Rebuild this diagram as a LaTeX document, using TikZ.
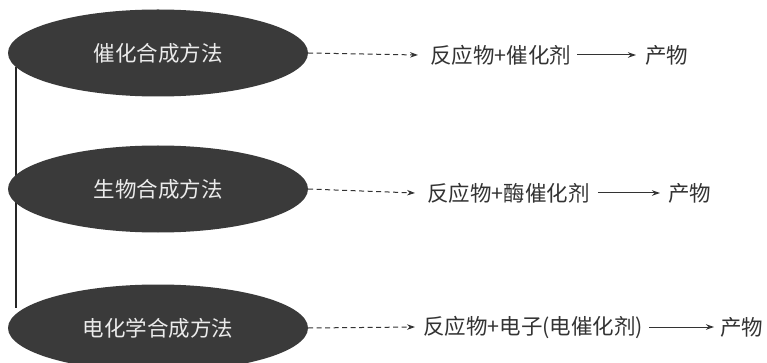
\documentclass[tikz,border=0pt]{standalone}
\usepackage{fontspec}
\newfontfamily\cjk{Noto Sans CJK SC}
\usetikzlibrary{shapes.geometric,arrows.meta,backgrounds}
\definecolor{ellfill}{HTML}{3A3A3A}
\definecolor{txt}{HTML}{333333}
\tikzset{
  ellnode/.style={ellipse, fill=ellfill, draw=none, minimum width=300pt, minimum height=87pt, inner sep=0pt, text=white!92!black, font=\cjk\fontsize{21.5}{23}\selectfont},
  lbl/.style={anchor=west, inner sep=0pt, text=txt, font=\cjk\fontsize{21.5}{23}\selectfont},
  dasharrow/.style={draw=txt, line width=1pt, dash pattern=on 5pt off 3.5pt, -{Stealth[length=8pt,width=5.5pt]}},
  solidarrow/.style={draw=txt, line width=1pt, -{Stealth[length=8pt,width=5.5pt]}},
  vline/.style={draw=black!85, line width=1.4pt}
}
\begin{document}
\begin{tikzpicture}[x=1pt,y=-1pt]
\useasboundingbox (0,0) rectangle (767,363);
\clip (0,0) rectangle (767,363);
\node[ellnode] (e1) at (158,53) {催化合成方法};
\node[ellnode] (e2) at (158,189) {生物合成方法};
\node[ellnode] (e3) at (158,328) {电化学合成方法};
\begin{scope}[on background layer]
\draw[vline] ([xshift=8pt,yshift=-14pt]e1.west) -- ([xshift=8pt,yshift=20pt]e3.west);
\end{scope}
\node[lbl] (t1) at (430,55) {反应物+催化剂};
\node[lbl] (p1) at (645,55) {产物};
\node[lbl] (t2) at (427,193) {反应物+酶催化剂};
\node[lbl] (p2) at (668,193) {产物};
\node[lbl] (t3) at (423,327) {反应物+电子(电催化剂)};
\node[lbl] (p3) at (720,327) {产物};
\draw[dasharrow] (e1.east) -- ([xshift=-12pt]t1.west);
\draw[dasharrow] (e2.east) -- ([xshift=-12pt]t2.west);
\draw[dasharrow] (e3.east) -- ([xshift=-8pt]t3.west);
\draw[solidarrow] ([xshift=6pt]t1.east) -- ([xshift=-9pt]p1.west);
\draw[solidarrow] ([xshift=8pt]t2.east) -- ([xshift=-8pt]p2.west);
\draw[solidarrow] ([xshift=6pt]t3.east) -- ([xshift=-6pt]p3.west);
\end{tikzpicture}
\end{document}
